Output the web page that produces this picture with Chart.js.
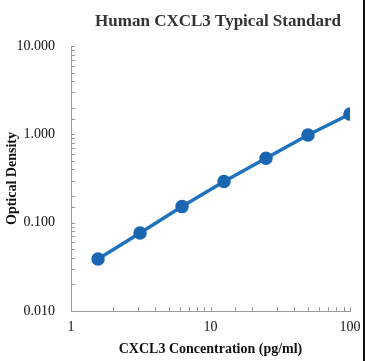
<!DOCTYPE html>
<html>
<head>
<meta charset="utf-8">
<script src="https://cdn.jsdelivr.net/npm/chart.js@4.4.1/dist/chart.umd.min.js"></script>
<style>
  html, body { margin: 0; padding: 0; background: #fff; }
  #wrap { width: 363px; height: 361px; border-right: 2px solid #111; position: relative; }
</style>
</head>
<body>
<div id="wrap"><canvas id="c"></canvas></div>
<script>
const chartTitle = "Human CXCL3 Typical Standard";
const xAxisTitle = "CXCL3 Concentration (pg/ml)";
const yAxisTitle = "Optical Density";
const concentrations = [1.5625, 3.125, 6.25, 12.5, 25, 50, 100];
const odValues = [0.0388, 0.0764, 0.152, 0.292, 0.536, 0.982, 1.694];
const xTickLabels = [1, 10, 100];
const yTickLabels = [0.01, 0.1, 1, 10];

const serif = "'Liberation Serif', 'Times New Roman', serif";

const isMajor = (v, list) => list.some(t => Math.abs(t - v) / t < 1e-6);

const innerTicks = {
  id: 'innerTicks',
  afterDraw(chart) {
    const ctx = chart.ctx;
    const xs = chart.scales.x, ys = chart.scales.y;
    const ca = chart.chartArea;
    ctx.save();
    ctx.strokeStyle = '#9a9a9a';
    ctx.lineWidth = 1;
    ctx.beginPath();
    ys.ticks.forEach(t => {
      const py = Math.round(ys.getPixelForValue(t.value)) + 0.5;
      ctx.moveTo(ca.left, py); ctx.lineTo(ca.left + 4, py);
    });
    xs.ticks.forEach(t => {
      const px = Math.round(xs.getPixelForValue(t.value)) + 0.5;
      ctx.moveTo(px, ca.bottom); ctx.lineTo(px, ca.bottom - 4);
    });
    ctx.stroke();
    ctx.restore();
  }
};

const customTitle = {
  id: 'customTitle',
  afterDraw(chart) {
    const ctx = chart.ctx;
    ctx.save();
    ctx.font = "bold 17px " + serif;
    ctx.fillStyle = '#333333';
    ctx.textAlign = 'center';
    ctx.textBaseline = 'middle';
    ctx.fillText(chartTitle, 218, 22);
    ctx.restore();
  }
};

new Chart(document.getElementById('c'), {
  type: 'line',
  data: {
    datasets: [{
      data: concentrations.map((x, i) => ({ x: x, y: odValues[i] })),
      borderColor: '#1f72bd',
      backgroundColor: '#1a66b3',
      pointBackgroundColor: '#1a66b3',
      pointBorderColor: '#1a66b3',
      borderWidth: 3.5,
      pointRadius: 5,
      tension: 0,
      fill: false
    }]
  },
  options: {
    responsive: true,
    maintainAspectRatio: false,
    animation: false,
    layout: { padding: { top: 46, right: 13, left: 0, bottom: 0 } },
    plugins: { legend: { display: false }, title: { display: false }, tooltip: { enabled: false } },
    scales: {
      x: {
        type: 'logarithmic',
        min: 1, max: 100,
        afterFit(s) { s.height = 50; s.paddingLeft = 0; s.paddingRight = 0; },
        grid: { display: true, drawOnChartArea: false, drawTicks: false },
        border: { display: true, color: '#9a9a9a', width: 1 },
        ticks: {
          autoSkip: false, maxRotation: 0, padding: 8,
          color: '#111', font: { family: serif, size: 14 },
          callback: (v) => isMajor(v, xTickLabels) ? String(v) : ''
        },
        title: { display: true, text: xAxisTitle, color: '#111', font: { family: serif, size: 14, weight: 'bold' }, padding: { top: 0, bottom: 3 } }
      },
      y: {
        type: 'logarithmic',
        min: 0.01, max: 10,
        afterFit(s) { s.width = 71; },
        grid: { display: true, drawOnChartArea: false, drawTicks: false },
        border: { display: true, color: '#9a9a9a', width: 1 },
        ticks: {
          autoSkip: false, padding: 16,
          color: '#111', font: { family: serif, size: 14 },
          callback: (v) => isMajor(v, yTickLabels) ? Number(v).toFixed(3) : ''
        },
        title: { display: true, text: yAxisTitle, color: '#111', font: { family: serif, size: 14, weight: 'bold' }, padding: { top: 4, bottom: 0 } }
      }
    }
  },
  plugins: [innerTicks, customTitle]
});
</script>
</body>
</html>
